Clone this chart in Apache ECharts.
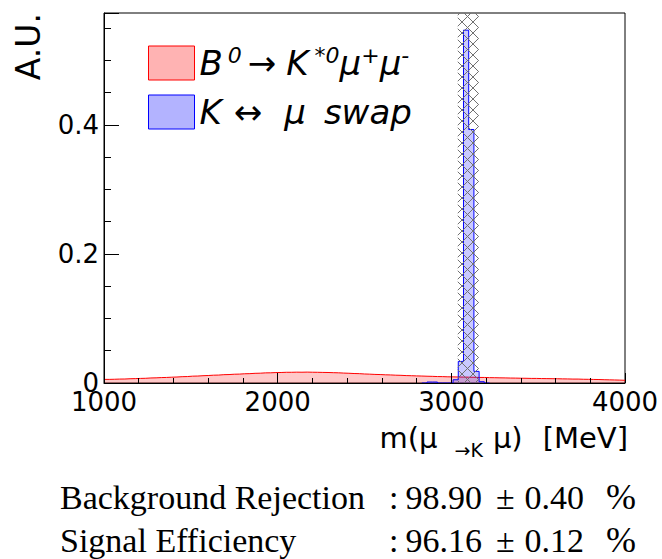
<!DOCTYPE html>
<html><head><meta charset="utf-8">
<script src="https://cdn.jsdelivr.net/npm/echarts@6/dist/echarts.min.js"></script>
<style>html,body{margin:0;padding:0;background:#fff}#c{width:662px;height:559px;background:#fff}</style>
</head><body><div id="c"></div>
<script>
// ---- data ----
const xTicks = [1000, 2000, 3000, 4000];
const yTicks = [0, 0.2, 0.4];
const binStart = 1000;
const binWidth = 30;
// B0 -> K*0 mu mu (signal), 100 bins of 30 MeV from 1000 to 4000
const signalValues = [
  0.0056, 0.0058, 0.0061, 0.0062, 0.0066, 0.0068, 0.0071,
  0.0073, 0.0078, 0.0080, 0.0084, 0.0086, 0.0090, 0.0093,
  0.0098, 0.0100, 0.0106, 0.0108, 0.0113, 0.0116,
  0.0121, 0.0123, 0.0129, 0.0131, 0.0136, 0.0138, 0.0143,
  0.0145, 0.0150, 0.0152, 0.0157, 0.0158, 0.0162, 0.0163,
  0.0166, 0.0166, 0.0168, 0.0167, 0.0169, 0.0167, 0.0166, 0.0164, 0.0163,
  0.0160, 0.0158, 0.0154, 0.0151, 0.0147, 0.0145, 0.0140,
  0.0137, 0.0133, 0.0131, 0.0127, 0.0125, 0.0121, 0.0119,
  0.0115, 0.0113, 0.0110, 0.0108, 0.0105, 0.0103, 0.0100, 0.0099, 0.0096, 0.0095,
  0.0093, 0.0092, 0.0090, 0.0089, 0.0086, 0.0086, 0.0083, 0.0082, 0.0080, 0.0079,
  0.0077, 0.0076, 0.0074, 0.0073, 0.0071, 0.0071, 0.0069, 0.0068, 0.0067, 0.0066,
  0.0064, 0.0063, 0.0061, 0.0061, 0.0058, 0.0057, 0.0055, 0.0054, 0.0051, 0.0049,
  0.0047, 0.0045, 0.0042
];
// K <-> mu swap background, non-empty region only
const swapBinStarts = [2830, 2860, 2890, 2920, 2950, 2980, 3010, 3040, 3070, 3100, 3130, 3160, 3190];
const swapValues    = [0, 0.0015, 0.0015, 0, 0, 0, 0.005, 0.0335, 0.547, 0.393, 0.018, 0.002, 0];
// hatched veto window
const vetoWindow = [3037, 3157];
const legendNames = ['B0→K*0μ+μ-', 'K↔μ swap'];
const statLabels = ['Background Rejection', 'Signal Efficiency'];
const statValues = [['98.90', '0.40'], ['96.16', '0.12']];
const yMax = 0.5736;

// ---- build step-histogram data ----
function stepData(starts, values, width) {
  const d = starts.map((s, i) => [s, values[i]]);
  d.push([starts[starts.length - 1] + width, values[values.length - 1]]);
  return d;
}
const signalStarts = signalValues.map((_, i) => binStart + i * binWidth);

// cross-hatch lines clipped to a rectangle (pixel geometry of the band)
function crossHatch(x0, y0, x1, y1, s, color) {
  const out = [];
  const add = (ax, ay, bx, by) => out.push({type: 'line', shape: {x1: ax, y1: ay, x2: bx, y2: by},
    style: {stroke: color, lineWidth: 1}});
  for (let c = Math.ceil((x0 - y1) / s) * s; c <= x1 - y0; c += s) {   // x - y = c
    const ya = Math.max(y0, x0 - c), yb = Math.min(y1, x1 - c);
    if (yb > ya) add(ya + c, ya, yb + c, yb);
  }
  for (let c = Math.ceil((x0 + y0) / s) * s; c <= x1 + y1; c += s) {   // x + y = c
    const ya = Math.max(y0, c - x1), yb = Math.min(y1, c - x0);
    if (yb > ya) add(c - ya, ya, c - yb, yb);
  }
  return out;
}

const FONT = 'DejaVu Sans';
const SERIF = 'Liberation Serif';

const chart = echarts.init(document.getElementById('c'), null, {renderer: 'svg'});
chart.setOption({
  animation: false,
  textStyle: {fontFamily: FONT, color: '#000'},
  grid: {left: 104, right: 37, top: 13, bottom: 176, show: true, borderColor: '#000', borderWidth: 1},
  xAxis: {
    type: 'value', min: xTicks[0], max: xTicks[xTicks.length - 1], interval: xTicks[1] - xTicks[0],
    z: 20,
    axisLine: {show: true, lineStyle: {color: '#000', width: 1}},
    axisTick: {show: true, inside: true, length: 10, lineStyle: {color: '#000', width: 1}},
    minorTick: {show: true, splitNumber: 5, length: 5, lineStyle: {color: '#000', width: 1}},
    splitLine: {show: false},
    axisLabel: {fontFamily: FONT, fontSize: 26, color: '#000', margin: 6,
      formatter: v => xTicks.includes(v) ? String(v) : ''}
  },
  yAxis: {
    type: 'value', min: 0, max: yMax, interval: yTicks[1] - yTicks[0],
    z: 20,
    axisLine: {show: true, lineStyle: {color: '#000', width: 1}},
    axisTick: {show: true, inside: true, length: 15, lineStyle: {color: '#000', width: 1}},
    minorTick: {show: true, splitNumber: 4, length: 7, lineStyle: {color: '#000', width: 1}},
    splitLine: {show: false},
    axisLabel: {fontFamily: FONT, fontSize: 26, color: '#000', margin: 5, showMaxLabel: false,
      formatter: v => { const t = yTicks.find(k => Math.abs(k - v) < 1e-9); return t === undefined ? '' : String(t); }}
  },
  legend: {
    z: 100,
    left: 148, top: 44, padding: 0, orient: 'vertical', itemWidth: 46, itemHeight: 34, itemGap: 14,
    icon: 'rect', selectedMode: false,
    data: [
      {name: legendNames[0], itemStyle: {color: '#ffb3b3', borderColor: '#ff0000', borderWidth: 1}},
      {name: legendNames[1], itemStyle: {color: '#b3b3ff', borderColor: '#0000ff', borderWidth: 1}}
    ],
    formatter: name => name === legendNames[0]
      ? '{m|B}{s0|0}{ar|→}{k|K}{s1|*0}{m|μ}{s|+}{m|μ}{s|-}'
      : '{m|K}{lr|↔}{mu|μ}{w|swap}',
    textStyle: {
      rich: {
        m: {fontFamily: FONT, fontSize: 34, fontStyle: 'italic', color: '#000', lineHeight: 38},
        k: {fontFamily: FONT, fontSize: 34, fontStyle: 'italic', color: '#000', lineHeight: 38, padding: [0, 0, 0, 10]},
        mu: {fontFamily: FONT, fontSize: 34, fontStyle: 'italic', color: '#000', lineHeight: 38, padding: [0, 0, 0, 22]},
        w: {fontFamily: FONT, fontSize: 34, fontStyle: 'italic', color: '#000', lineHeight: 38, padding: [0, 0, 0, 18]},
        ar: {fontFamily: FONT, fontSize: 34, color: '#000', lineHeight: 38, padding: [0, 0, 0, 6]},
        lr: {fontFamily: FONT, fontSize: 34, color: '#000', lineHeight: 38, padding: [0, 0, 0, 12]},
        s0: {fontFamily: FONT, fontSize: 22, fontStyle: 'italic', color: '#000', lineHeight: 28, verticalAlign: 'top', padding: [0, 0, 0, 5]},
        s1: {fontFamily: FONT, fontSize: 22, fontStyle: 'italic', color: '#000', lineHeight: 28, verticalAlign: 'top', padding: [0, 0, 0, 6]},
        s: {fontFamily: FONT, fontSize: 22, fontStyle: 'italic', color: '#000', lineHeight: 28, verticalAlign: 'top'}
      }
    }
  },
  series: [
    {
      name: legendNames[0], type: 'line', step: 'end', symbol: 'none', z: 3,
      data: stepData(signalStarts, signalValues, binWidth),
      lineStyle: {color: '#ff0000', width: 1},
      itemStyle: {color: '#ff0000'},
      areaStyle: {color: 'rgba(255,0,0,0.3)', origin: 'start'}
    },
    {
      name: legendNames[1], type: 'line', step: 'end', symbol: 'none', z: 4,
      data: stepData(swapBinStarts, swapValues, binWidth),
      lineStyle: {color: '#0000ff', width: 1},
      itemStyle: {color: '#0000ff'},
      areaStyle: {color: 'rgba(0,0,255,0.3)', origin: 'start'}
    },
    {
      type: 'custom', z: 10, silent: true,
      data: [vetoWindow],
      encode: {x: [0, 1]},
      renderItem: (params, api) => {
        const a = api.coord([api.value(0), 0]);
        const b = api.coord([api.value(1), 0]);
        const cs = params.coordSys;
        return {type: 'group', children: crossHatch(a[0], cs.y, b[0], cs.y + cs.height, 11, '#707070')};
      }
    }
  ],
  graphic: [
    {type: 'text', z: 100, x: 28, y: 13, rotation: Math.PI / 2,
      style: {text: 'A.U.', font: '33px "DejaVu Sans"', fill: '#000', align: 'right', verticalAlign: 'middle'}},
    {type: 'text', z: 100, x: 628, y: 438,
      style: {text: '{a|m(μ}{b|→K}{a|μ)}{c|[MeV]}', align: 'right', verticalAlign: 'middle', fill: '#000',
        rich: {
          a: {fontFamily: FONT, fontSize: 29, lineHeight: 42, fill: '#000'},
          c: {fontFamily: FONT, fontSize: 29, lineHeight: 42, fill: '#000', padding: [0, 0, 0, 20]},
          b: {fontFamily: FONT, fontSize: 19, lineHeight: 20, verticalAlign: 'bottom', padding: [0, 10, 0, 17], fill: '#000'}
        }}},
    {type: 'text', z: 100, x: 60, y: 497, style: {text: statLabels[0], font: '34px "Liberation Serif"', fill: '#000', verticalAlign: 'middle'}},
    {type: 'text', z: 100, x: 60, y: 540, style: {text: statLabels[1], font: '34px "Liberation Serif"', fill: '#000', verticalAlign: 'middle'}},
    ...statValues.map((sv, i) => ({
      type: 'text', z: 100, x: 389, y: 497 + 43 * i,
      style: {
        text: '{c|:}{n|' + sv[0] + '}{p|±}{m|' + sv[1] + '}{q|%}', verticalAlign: 'middle', fill: '#000',
        rich: {
          c: {fontFamily: SERIF, fontSize: 34, fill: '#000'},
          n: {fontFamily: SERIF, fontSize: 34, fill: '#000', padding: [0, 0, 0, 7]},
          p: {fontFamily: SERIF, fontSize: 34, fill: '#000', padding: [0, 0, 0, 14]},
          m: {fontFamily: SERIF, fontSize: 34, fill: '#000', padding: [0, 0, 0, 10]},
          q: {fontFamily: SERIF, fontSize: 36, fill: '#000', padding: [0, 0, 0, 22]}
        }
      }
    }))
  ]
});
</script>
</body></html>
